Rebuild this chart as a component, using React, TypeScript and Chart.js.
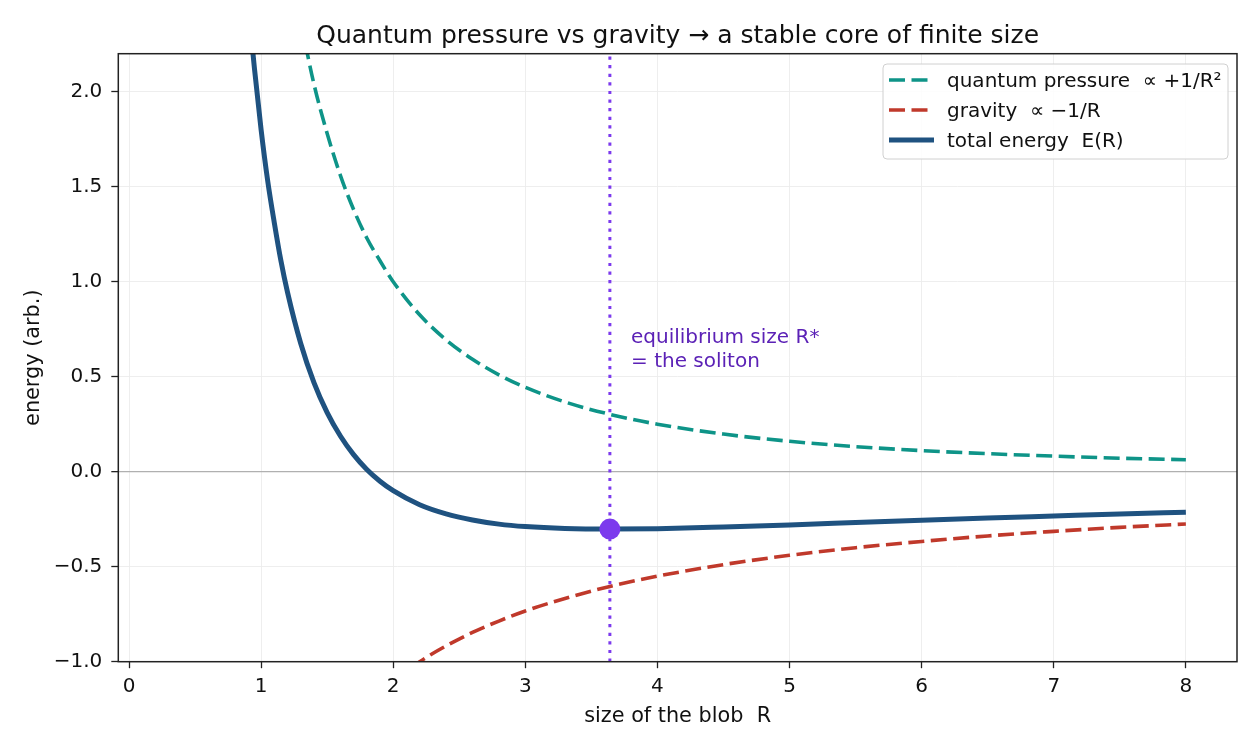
import React, { useEffect, useRef } from 'react';
import { Chart, registerables } from 'chart.js';

Chart.register(...registerables);

// size of the blob R, and energies
const totalR = [0.85, 0.9, 0.95, 1.0, 1.05, 1.1, 1.15, 1.2, 1.3, 1.4, 1.5, 1.6, 1.7, 1.8, 1.9, 2.0, 2.2, 2.4, 2.6, 2.8, 3.0, 3.3, 3.64, 4.0, 4.5, 5.0, 5.5, 6.0, 6.5, 7.0, 7.5, 8.0];
const totalEnergy = [2.95, 2.49, 2.12, 1.8, 1.53, 1.31, 1.11, 0.944, 0.675, 0.469, 0.311, 0.188, 0.09, 0.012, -0.05, -0.1, -0.174, -0.222, -0.254, -0.276, -0.289, -0.299, -0.302, -0.3, -0.291, -0.28, -0.268, -0.256, -0.244, -0.233, -0.222, -0.213];

const pressureR = [1.3, 1.4, 1.5, 1.6, 1.7, 1.8, 1.9, 2.0, 2.2, 2.4, 2.6, 2.8, 3.0, 3.3, 3.64, 4.0, 4.5, 5.0, 5.5, 6.0, 6.5, 7.0, 7.5, 8.0];
const pressureEnergy = [2.37, 2.04, 1.78, 1.56, 1.38, 1.23, 1.11, 1.0, 0.826, 0.694, 0.592, 0.51, 0.444, 0.367, 0.302, 0.25, 0.198, 0.16, 0.132, 0.111, 0.095, 0.082, 0.071, 0.063];

const gravityR = [2.0, 2.2, 2.4, 2.6, 2.8, 3.0, 3.3, 3.64, 4.0, 4.5, 5.0, 5.5, 6.0, 6.5, 7.0, 7.5, 8.0];
const gravityEnergy = [-1.1, -1.0, -0.917, -0.846, -0.786, -0.733, -0.667, -0.604, -0.55, -0.489, -0.44, -0.4, -0.367, -0.338, -0.314, -0.293, -0.275];

const equilibriumR = 3.64;
const equilibriumE = -0.302;

const xTicks = [0, 1, 2, 3, 4, 5, 6, 7, 8];
const yTicks = [-1.0, -0.5, 0.0, 0.5, 1.0, 1.5, 2.0];
const xMin = -0.081;
const xMax = 8.387;
const yMin = -1.0;
const yMax = 2.2;

const legendLabels = ['quantum pressure  \u221d +1/R\u00b2', 'gravity  \u221d \u22121/R', 'total energy  E(R)'];
const annotationLines = ['equilibrium size R*', '= the soliton'];
const annotationAt = { x: 3.8, y: 0.55 };

const TEAL = '#0e9488';
const RED = '#c0392b';
const NAVY = '#1f5280';
const VIOLET = '#7c3aed';
const FONT = "'DejaVu Sans', sans-serif";
const DASH = [16, 6.5];

const toPoints = (xs: number[], ys: number[]) => xs.map((x, i) => ({ x, y: ys[i] }));

const decorPlugin = {
    id: 'decor',
    afterDatasetsDraw(chart: any) {
        const { ctx, chartArea: a, scales } = chart;
        ctx.save();

        // frame on all four sides
        ctx.strokeStyle = '#222';
        ctx.lineWidth = 1.5;
        ctx.strokeRect(a.left, a.top, a.right - a.left, a.bottom - a.top);

        // annotation next to the equilibrium line
        ctx.fillStyle = '#5b21b6';
        ctx.font = `20px ${FONT}`;
        ctx.textAlign = 'left';
        ctx.textBaseline = 'alphabetic';
        const ax = scales.x.getPixelForValue(annotationAt.x);
        const ay = scales.y.getPixelForValue(annotationAt.y);
        ctx.fillText(annotationLines[0], ax, ay - 24);
        ctx.fillText(annotationLines[1], ax, ay);

        // legend
        const bx = 883, by = 64, bw = 345, bh = 95;
        ctx.beginPath();
        ctx.roundRect(bx, by, bw, bh, 4);
        ctx.fillStyle = 'rgba(255,255,255,0.85)';
        ctx.fill();
        ctx.strokeStyle = '#d0d0d0';
        ctx.lineWidth = 1;
        ctx.stroke();

        const styles = [
            { color: TEAL, width: 3.6, dash: DASH },
            { color: RED, width: 3.6, dash: DASH },
            { color: NAVY, width: 5, dash: [] as number[] },
        ];
        legendLabels.forEach((label, i) => {
            const ry = 80 + i * 30;
            const s = styles[i];
            ctx.beginPath();
            ctx.setLineDash(s.dash);
            ctx.strokeStyle = s.color;
            ctx.lineWidth = s.width;
            ctx.moveTo(889, ry);
            ctx.lineTo(934, ry);
            ctx.stroke();
            ctx.setLineDash([]);
            ctx.fillStyle = '#111';
            ctx.font = `20px ${FONT}`;
            ctx.fillText(label, 947, ry + 6.7);
        });

        // title and axis titles
        const cx = (a.left + a.right) / 2;
        ctx.fillStyle = '#111';
        ctx.textAlign = 'center';
        ctx.font = `25px ${FONT}`;
        ctx.fillText('Quantum pressure vs gravity \u2192 a stable core of finite size', cx, 42.5);
        ctx.font = `20.8px ${FONT}`;
        ctx.fillText('size of the blob  R', cx, 721.5);
        ctx.translate(38.5, (a.top + a.bottom) / 2);
        ctx.rotate(-Math.PI / 2);
        ctx.fillText('energy (arb.)', 0, 0);

        ctx.restore();
    },
};

const App: React.FC = () => {
    const canvasRef = useRef<HTMLCanvasElement | null>(null);
    const chartRef = useRef<Chart | null>(null);

    useEffect(() => {
        const canvas = canvasRef.current;
        if (!canvas) return;
        if (chartRef.current) chartRef.current.destroy();

        chartRef.current = new Chart(canvas, {
            type: 'line',
            data: {
                datasets: [
                    {
                        data: [{ x: equilibriumR, y: equilibriumE }],
                        showLine: false,
                        pointRadius: 10.5,
                        pointBackgroundColor: VIOLET,
                        pointBorderWidth: 0,
                        clip: false,
                    },
                    {
                        data: toPoints(totalR, totalEnergy),
                        borderColor: NAVY,
                        borderWidth: 5,
                        pointRadius: 0,
                        cubicInterpolationMode: 'monotone',
                        clip: 0,
                    },
                    {
                        data: [{ x: equilibriumR, y: yMin }, { x: equilibriumR, y: yMax }],
                        borderColor: VIOLET,
                        borderWidth: 3,
                        borderDash: [3.2, 5.4],
                        pointRadius: 0,
                        clip: 0,
                    },
                    {
                        data: toPoints(pressureR, pressureEnergy),
                        borderColor: TEAL,
                        borderWidth: 3.6,
                        borderDash: DASH,
                        pointRadius: 0,
                        cubicInterpolationMode: 'monotone',
                        clip: 0,
                    },
                    {
                        data: toPoints(gravityR, gravityEnergy),
                        borderColor: RED,
                        borderWidth: 3.6,
                        borderDash: DASH,
                        pointRadius: 0,
                        cubicInterpolationMode: 'monotone',
                        clip: 0,
                    },
                ],
            } as any,
            options: {
                animation: false,
                responsive: true,
                maintainAspectRatio: false,
                layout: { padding: { left: 0, right: 23, top: 53.7, bottom: 0 } },
                plugins: {
                    legend: { display: false },
                    tooltip: { enabled: false },
                    title: { display: false },
                },
                scales: {
                    x: {
                        type: 'linear',
                        min: xMin,
                        max: xMax,
                        afterBuildTicks: (scale: any) => {
                            scale.ticks = xTicks.map((v) => ({ value: v }));
                        },
                        afterFit: (scale: any) => {
                            scale.height = 88.3;
                        },
                        ticks: {
                            font: { family: FONT, size: 20 },
                            color: '#111',
                            padding: 7,
                            maxRotation: 0,
                            callback: (v: any) => String(v),
                        },
                        grid: {
                            color: '#ececec',
                            lineWidth: 0.9,
                            tickColor: '#222',
                            tickLength: 6.5,
                            tickWidth: 1.3,
                        },
                        border: { display: false },
                    },
                    y: {
                        type: 'linear',
                        min: yMin,
                        max: yMax,
                        afterBuildTicks: (scale: any) => {
                            scale.ticks = yTicks.map((v) => ({ value: v }));
                        },
                        afterFit: (scale: any) => {
                            scale.width = 118.3;
                        },
                        ticks: {
                            font: { family: FONT, size: 20 },
                            color: '#111',
                            padding: 9,
                            callback: (v: any) => {
                                const n = Number(v);
                                return (n < -1e-9 ? '\u2212' : '') + Math.abs(n).toFixed(1);
                            },
                        },
                        grid: {
                            color: (c: any) => (c.tick && Math.abs(c.tick.value) < 1e-9 ? '#b0b0b0' : '#ececec'),
                            lineWidth: (c: any) => (c.tick && Math.abs(c.tick.value) < 1e-9 ? 1.3 : 0.9),
                            tickColor: '#222',
                            tickLength: 7,
                            tickWidth: 1.3,
                        },
                        border: { display: false },
                    },
                },
            } as any,
            plugins: [decorPlugin],
        });

        return () => {
            if (chartRef.current) {
                chartRef.current.destroy();
                chartRef.current = null;
            }
        };
    }, []);

    return (
        <div style={{ position: 'fixed', left: 0, top: 0, width: 1260, height: 750, background: '#fff' }}>
            <canvas ref={canvasRef} />
        </div>
    );
};

export default App;
